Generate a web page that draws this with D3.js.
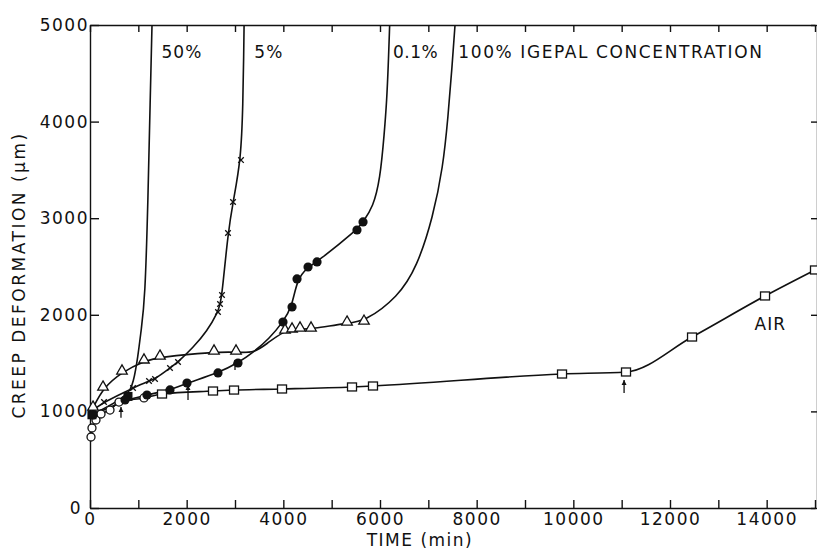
<!DOCTYPE html>
<html>
<head>
<meta charset="utf-8">
<script src="https://cdn.jsdelivr.net/npm/d3@7"></script>
<style>
  body { margin: 0; background: #fff; }
  svg text { font-family: "DejaVu Sans", sans-serif; fill: #111; }
</style>
</head>
<body>
<svg id="chart" width="817" height="550"></svg>
<script>
// creep data: [time (min), deformation (um)]
var airOpenCircles = [[21, 735], [41, 828], [124, 911], [228, 973], [414, 1014], [600, 1097], [1117, 1139]];
var airSquares = [[1490, 1180], [2545, 1211], [2980, 1221], [3973, 1232], [5421, 1253], [5855, 1263],
  [9766, 1387], [11090, 1408], [12456, 1770], [13966, 2195], [15000, 2464]];

var pct50Squares = [[40, 965], [786, 1155]];
var pct50Tail = [[900, 1300], [990, 1560], [1060, 1850], [1138, 2153], [1200, 3188], [1245, 4224], [1283, 5000]];

var pct5Crosses = [[62, 1014], [290, 1097], [890, 1242], [1221, 1315], [1345, 1335], [1655, 1449], [1821, 1511],
  [2648, 2029], [2690, 2112], [2731, 2205], [2855, 2847], [2959, 3168], [3124, 3602]];
var pct5Mid = [[2131, 1660], [2421, 1830]];
var pct5Tail = [[3165, 4200], [3180, 4700], [3188, 5000]];

var pct01Dots = [[62, 963], [725, 1118], [1179, 1170], [1655, 1222], [2007, 1294], [2648, 1398], [3062, 1501],
  [3993, 1925], [4180, 2081], [4283, 2371], [4511, 2495], [4697, 2547], [5524, 2878], [5649, 2961]];
var pct01Mid = [[3400, 1620], [3700, 1750]];
var pct01Tail = [[5856, 3116], [6000, 3395], [6090, 3882], [6140, 4224], [6170, 4565], [6200, 5000]];

var pct100Triangles = [[62, 1035], [269, 1242], [662, 1408], [1117, 1522], [1448, 1563], [2566, 1615], [3021, 1615],
  [4035, 1832], [4180, 1843], [4345, 1853], [4573, 1853], [5318, 1915], [5669, 1925]];
var pct100Mid = [[3400, 1600], [3700, 1720]];
var pct100Tail = [[6373, 2184], [6766, 2495], [7097, 3012], [7304, 3530], [7408, 4048], [7490, 4565], [7552, 5000]];

// little arrows under the curves: [time, tail, tip]
var arrows = [[641, 935, 1045], [2028, 1118, 1273], [3000, 1428, 1532], [11050, 1190, 1325]];

var timeTicks = d3.range(0, 15001, 1000);
var creepTicks = [0, 1000, 2000, 3000, 4000, 5000];

var curveLabels = [
  { text: "50%", t: 1480, v: 4660, ls: 1 },
  { text: "5%", t: 3400, v: 4660, ls: 1 },
  { text: "0.1%", t: 6270, v: 4660, ls: 0.5 },
  { text: "100%  IGEPAL CONCENTRATION", t: 7620, v: 4660, ls: 1.6 },
  { text: "AIR", t: 13750, v: 1840, ls: 1 }
];

var svg = d3.select("#chart");
var x = d3.scaleLinear().domain([0, 15000]).range([90, 815]);
var y = d3.scaleLinear().domain([0, 5000]).range([508, 25]);

var ink = "#111";

// frame and ticks
svg.append("g")
  .attr("transform", "translate(0,508)")
  .call(d3.axisBottom(x).tickValues(timeTicks).tickSize(-8).tickSizeOuter(0).tickPadding(5)
    .tickFormat(function(d) { return d % 2000 === 0 ? String(d) : ""; }))
  .call(function(g) {
    g.selectAll("text").attr("font-size", 17).attr("letter-spacing", 1.5);
  });

svg.append("g")
  .attr("transform", "translate(0,25)")
  .call(d3.axisTop(x).tickValues(timeTicks).tickSize(-7).tickSizeOuter(0).tickFormat(""));

svg.append("g")
  .attr("transform", "translate(90,0)")
  .call(d3.axisLeft(y).tickValues(creepTicks).tickSize(-9).tickSizeOuter(0).tickPadding(1)
    .tickFormat(function(d) { return String(d); }))
  .call(function(g) {
    g.selectAll("text").attr("font-size", 17).attr("letter-spacing", 1.5);
    g.selectAll(".tick").filter(function(d) { return d === 0; }).select("text").attr("x", -8);
  });

svg.append("g")
  .attr("transform", "translate(817,0)")
  .call(d3.axisRight(y).tickValues(creepTicks).tickSize(-6).tickSizeOuter(0).tickFormat(""));

svg.selectAll(".domain, .tick line").attr("stroke", ink).attr("stroke-width", 1.4);

// axis titles
svg.append("text")
  .attr("x", 420).attr("y", 546)
  .attr("text-anchor", "middle")
  .attr("font-size", 17).attr("letter-spacing", 1.5)
  .text("TIME (min)");

svg.append("text")
  .attr("transform", "translate(25,275) rotate(-90)")
  .attr("text-anchor", "middle")
  .attr("font-size", 17).attr("letter-spacing", 2.5)
  .text("CREEP DEFORMATION (\u03bcm)");

// curves (smooth fits drawn through the points)
var smoothLine = d3.line()
  .x(function(d) { return x(d[0]); })
  .y(function(d) { return y(d[1]); })
  .curve(d3.curveBasis);

// the air curve bends sharply at the last flat point, so keep it on the points
var airLine = d3.line()
  .x(function(d) { return x(d[0]); })
  .y(function(d) { return y(d[1]); })
  .curve(d3.curveMonotoneX);

function byTime(a, b) { return a[0] - b[0]; }

var g = svg.append("g")
  .attr("fill", "none")
  .attr("stroke", ink)
  .attr("stroke-width", 1.6);

g.append("path").attr("d", airLine(airOpenCircles.concat(airSquares)));

g.selectAll(".fit")
  .data([
    pct50Squares.concat(pct50Tail),
    pct5Crosses.concat(pct5Mid, pct5Tail).sort(byTime),
    pct01Dots.concat(pct01Mid, pct01Tail).sort(byTime),
    pct100Triangles.concat(pct100Mid, pct100Tail).sort(byTime)
  ])
  .enter()
  .append("path")
  .attr("class", "fit")
  .attr("d", smoothLine);

// arrows
var arrowG = svg.append("g").selectAll("g").data(arrows).enter().append("g");
arrowG.append("line")
  .attr("x1", function(d) { return x(d[0]); })
  .attr("x2", function(d) { return x(d[0]); })
  .attr("y1", function(d) { return y(d[1]); })
  .attr("y2", function(d) { return y(d[2]); })
  .attr("stroke", ink).attr("stroke-width", 1.3);
arrowG.append("path")
  .attr("d", function(d) {
    var px = x(d[0]), py = y(d[2]);
    return "M" + (px - 2.5) + "," + (py + 5) + "L" + px + "," + py + "L" + (px + 2.5) + "," + (py + 5) + "Z";
  })
  .attr("fill", ink);

// markers
svg.append("g").selectAll("circle")
  .data(airOpenCircles)
  .enter()
  .append("circle")
  .attr("cx", function(d) { return x(d[0]); })
  .attr("cy", function(d) { return y(d[1]); })
  .attr("r", 4)
  .attr("fill", "#fff").attr("stroke", ink).attr("stroke-width", 1.3);

svg.append("g").selectAll("rect")
  .data(airSquares)
  .enter()
  .append("rect")
  .attr("x", function(d) { return x(d[0]) - 4.5; })
  .attr("y", function(d) { return y(d[1]) - 4; })
  .attr("width", 9).attr("height", 8)
  .attr("fill", "#fff").attr("stroke", ink).attr("stroke-width", 1.3);

svg.append("g").selectAll("rect")
  .data(pct50Squares)
  .enter()
  .append("rect")
  .attr("x", function(d) { return x(d[0]) - 4.5; })
  .attr("y", function(d) { return y(d[1]) - 4.5; })
  .attr("width", 9).attr("height", 9)
  .attr("fill", ink);

svg.append("g").selectAll("path")
  .data(pct5Crosses)
  .enter()
  .append("path")
  .attr("transform", function(d) { return "translate(" + x(d[0]) + "," + y(d[1]) + ")"; })
  .attr("d", d3.symbol(d3.symbolX, 22))
  .attr("fill", "none").attr("stroke", ink).attr("stroke-width", 1.3);

svg.append("g").selectAll("circle")
  .data(pct01Dots)
  .enter()
  .append("circle")
  .attr("cx", function(d) { return x(d[0]); })
  .attr("cy", function(d) { return y(d[1]); })
  .attr("r", 4.6)
  .attr("fill", ink);

svg.append("g").selectAll("path")
  .data(pct100Triangles)
  .enter()
  .append("path")
  .attr("transform", function(d) { return "translate(" + x(d[0]) + "," + (y(d[1]) - 1) + ")"; })
  .attr("d", d3.symbol(d3.symbolTriangle, 48))
  .attr("fill", "#fff").attr("stroke", ink).attr("stroke-width", 1.3);

// curve labels
svg.append("g").selectAll("text")
  .data(curveLabels)
  .enter()
  .append("text")
  .attr("x", function(d) { return x(d.t); })
  .attr("y", function(d) { return y(d.v); })
  .attr("font-size", 17).attr("letter-spacing", function(d) { return d.ls; })
  .text(function(d) { return d.text; });
</script>
</body>
</html>
